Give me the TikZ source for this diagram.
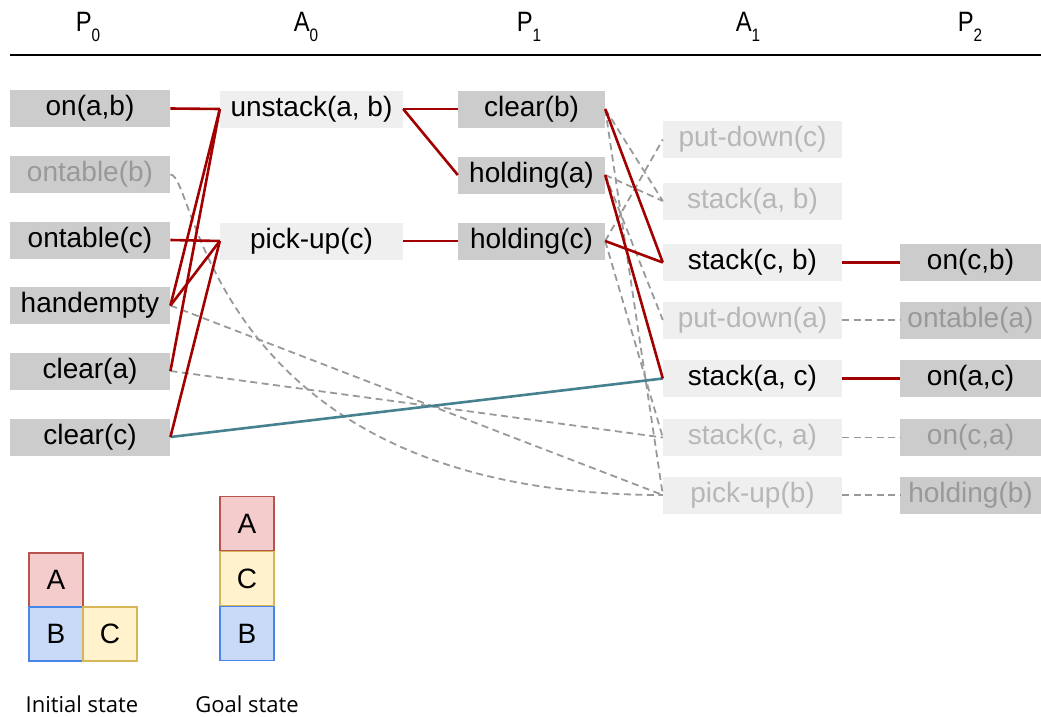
\documentclass[tikz,border=0pt]{standalone}
\usepackage{fontspec}
\setmainfont{Liberation Sans}
\newfontfamily\lblfont{Open Sans}
\definecolor{pfill}{HTML}{CCCCCC}
\definecolor{afill}{HTML}{EFEFEF}
\definecolor{redl}{HTML}{A20000}
\definecolor{tealc}{HTML}{45818E}
\definecolor{dashg}{HTML}{999999}
\definecolor{ptxt}{HTML}{999999}
\definecolor{atxt}{HTML}{B7B7B7}
\definecolor{afillA}{HTML}{F4CCCC}
\definecolor{adrawA}{HTML}{B85450}
\definecolor{afillB}{HTML}{C9DAF8}
\definecolor{adrawB}{HTML}{4A86E8}
\definecolor{afillC}{HTML}{FFF2CC}
\definecolor{adrawC}{HTML}{D6B656}
\tikzset{
  base/.style={inner sep=0pt, minimum height=37pt, anchor=center, font=\fontsize{28}{31}\selectfont},
  pzero/.style={base, fill=pfill, minimum width=160.5pt},
  pone/.style={base, fill=pfill, minimum width=147pt},
  ptwo/.style={base, fill=pfill, minimum width=141pt},
  azero/.style={base, fill=afill, minimum width=183pt},
  aone/.style={base, fill=afill, minimum width=179pt},
  poff/.style={text=ptxt},
  aoff/.style={text=atxt},
  redline/.style={draw=redl, line width=2.6pt},
  dashline/.style={draw=dashg, line width=1.8pt, dash pattern=on 7pt off 4.5pt},
  tealline/.style={draw=tealc, line width=2.6pt},
  hdr/.style={inner sep=0pt, font=\fontsize{28}{31}\selectfont},
  blk/.style={inner sep=0pt, minimum width=54pt, minimum height=54pt, line width=1.2pt, font=\fontsize{28}{31}\selectfont},
  lbl/.style={inner sep=0pt, font=\lblfont\fontsize{22}{25}\selectfont}
}
\newcommand{\hsub}[2]{\scalebox{0.85}[1]{#1\raisebox{-0.35em}{\fontsize{18}{18}\selectfont #2}}}
\begin{document}
\begin{tikzpicture}[x=1pt,y=-1pt]
\useasboundingbox (0,0) rectangle (1041,717);
% header
\node[hdr] (h0) at (88,27) {\hsub{P}{0}};
\node[hdr] (h1) at (306,27) {\hsub{A}{0}};
\node[hdr] (h2) at (529,27) {\hsub{P}{1}};
\node[hdr] (h3) at (748,27) {\hsub{A}{1}};
\node[hdr] (h4) at (970,27) {\hsub{P}{2}};
\coordinate (hl) at (10,55);
\coordinate (hr) at (1041,55);
\draw[line width=2pt] (hl) -- (hr);
% P0
\node[pzero] (onab) at (90,108.5) {on(a,b)};
\node[pzero,poff] (ontb) at (90,174.5) {ontable(b)};
\node[pzero] (ontc) at (90,240) {ontable(c)};
\node[pzero] (hemp) at (90,305.5) {handempty};
\node[pzero] (cla) at (90,371) {clear(a)};
\node[pzero] (clc) at (90,437) {clear(c)};
% A0
\node[azero] (unst) at (311.5,109) {unstack(a, b)};
\node[azero] (pupc) at (311.5,241) {pick-up(c)};
% P1
\node[pone] (clb) at (531.5,109) {clear(b)};
\node[pone] (hola) at (531.5,175) {holding(a)};
\node[pone] (holc) at (531.5,241) {holding(c)};
% A1
\node[aone,aoff] (pdc) at (752.5,139.5) {put-down(c)};
\node[aone,aoff] (stab) at (752.5,201) {stack(a, b)};
\node[aone] (stcb) at (752.5,262.5) {stack(c, b)};
\node[aone,aoff] (pda) at (752.5,320) {put-down(a)};
\node[aone] (stac) at (752.5,378.5) {stack(a, c)};
\node[aone,aoff] (stca) at (752.5,437.5) {stack(c, a)};
\node[aone,aoff] (pub) at (752.5,495) {pick-up(b)};
% P2
\node[ptwo] (oncb) at (970.5,262.5) {on(c,b)};
\node[ptwo,poff] (onta) at (970.5,320) {ontable(a)};
\node[ptwo] (onac) at (970.5,378.5) {on(a,c)};
\node[ptwo,poff] (onca) at (970.5,437.5) {on(c,a)};
\node[ptwo,poff] (holb) at (970.5,495) {holding(b)};
% dashed edges
\draw[dashline] (ontb.east) .. controls (197,174.5) and (205,495) .. (pub.west);
\draw[dashline] (hemp.east) -- (pub.west);
\draw[dashline] (cla.east) -- (stca.west);
\draw[dashline] (holc.east) -- (pdc.west);
\draw[dashline] (clb.east) -- (stab.west);
\draw[dashline] (hola.east) -- (stab.west);
\draw[dashline] (hola.east) -- (pda.west);
\draw[dashline] (holc.east) -- (stca.west);
\draw[dashline] (clb.east) -- (pub.west);
\draw[dashline] (pda.east) -- (onta.west);
\draw[dashline] (stca.east) -- (onca.west);
\draw[dashline] (pub.east) -- (holb.west);
% teal edge
\draw[tealline] (clc.east) -- (stac.west);
% red edges
\draw[redline] (onab.east) -- (unst.west);
\draw[redline] (hemp.east) -- (unst.west);
\draw[redline] (cla.east) -- (unst.west);
\draw[redline] (ontc.east) -- (pupc.west);
\draw[redline] (hemp.east) -- (pupc.west);
\draw[redline] (clc.east) -- (pupc.west);
\draw[redline] (unst.east) -- (clb.west);
\draw[redline] (unst.east) -- (hola.west);
\draw[redline] (pupc.east) -- (holc.west);
\draw[redline] (clb.east) -- (stcb.west);
\draw[redline] (holc.east) -- (stcb.west);
\draw[redline] (hola.east) -- (stac.west);
\draw[redline] (stcb.east) -- (oncb.west);
\draw[redline] (stac.east) -- (onac.west);
% blocks
\node[blk, fill=afillA, draw=adrawA] (iA) at (56,580) {A};
\node[blk, fill=afillB, draw=adrawB] (iB) at (56,634) {B};
\node[blk, fill=afillC, draw=adrawC] (iC) at (110,634) {C};
\node[blk, fill=afillA, draw=adrawA] (gA) at (247,523.5) {A};
\node[blk, fill=afillC, draw=adrawC] (gC) at (247,578.5) {C};
\node[blk, fill=afillB, draw=adrawB] (gB) at (247,633.5) {B};
\node[lbl] (linit) at (82,704) {Initial state};
\node[lbl] (lgoal) at (247,704) {Goal state};
\end{tikzpicture}
\end{document}
